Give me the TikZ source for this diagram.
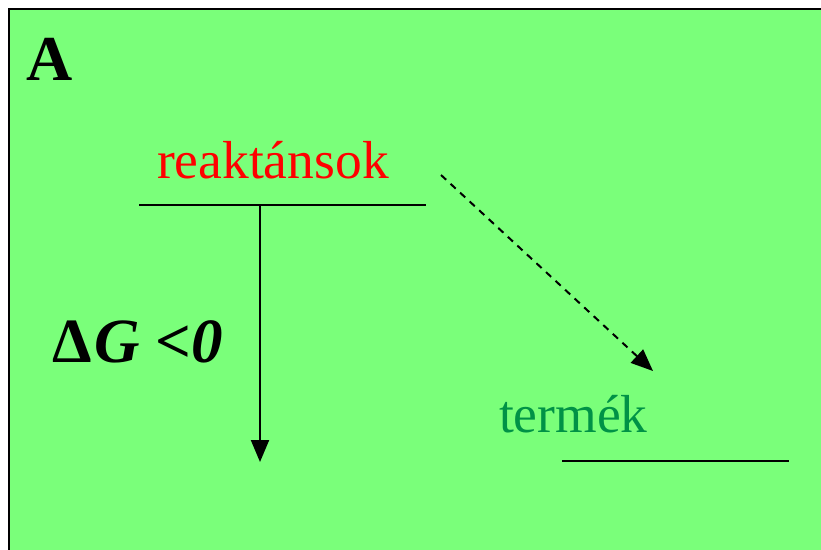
\documentclass[tikz,border=0pt]{standalone}
\usepackage{fontspec}
\setmainfont{Liberation Serif}
\usetikzlibrary{arrows.meta}
\definecolor{bg}{RGB}{122,255,122}
\definecolor{reactred}{RGB}{255,0,0}
\definecolor{proddgreen}{RGB}{0,146,70}
\tikzset{
  level/.style={line width=2pt},
  arr/.style={line width=2pt,-{Triangle[length=22pt,width=18pt]}},
  lbl/.style={anchor=base west,inner sep=0pt,outer sep=0pt},
}
\begin{document}
\begin{tikzpicture}[x=1pt,y=-1pt]
\useasboundingbox (0,0) rectangle (821,549);
\fill[white] (0,0) rectangle (821,549);
\filldraw[fill=bg,draw=black,line width=2.5pt] (9,9) rectangle (830,560);
\node[lbl,font=\fontsize{64}{64}\selectfont\bfseries] (A) at (27,80) {A};
\node[lbl,text=reactred,font=\fontsize{53.5}{53.5}\selectfont] (r) at (157,178) {reaktánsok};
\node[lbl,text=proddgreen,font=\fontsize{53.5}{53.5}\selectfont] (p) at (499,432) {termék};
\node[lbl,font=\fontsize{63}{63}\selectfont\bfseries] (dg) at (52,362) {Δ\kern3pt\textit{G} <\textit{0}};
\coordinate (rl) at (139,205);
\coordinate (rr) at (426,205);
\coordinate (pl) at (562,461);
\coordinate (pr) at (789,461);
\coordinate (vt) at (260,205);
\coordinate (vb) at (260,462);
\coordinate (ds) at (441,175);
\coordinate (de) at (653,371);
\draw[level] (rl) -- (rr);
\draw[level] (pl) -- (pr);
\draw[arr] (vt) -- (vb);
\draw[arr,dash pattern=on 7pt off 6pt] (ds) -- (de);
\end{tikzpicture}
\end{document}
